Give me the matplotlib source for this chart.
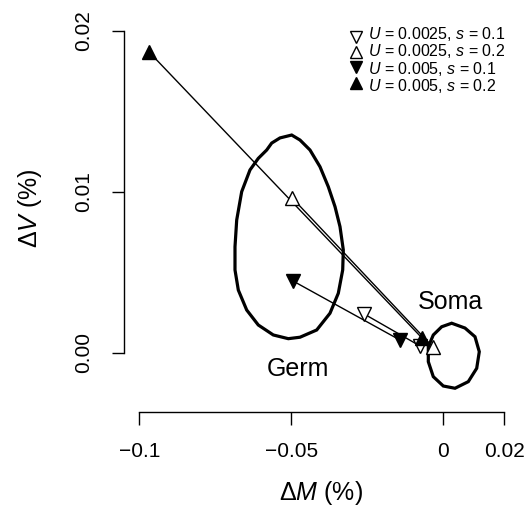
import matplotlib
matplotlib.use("Agg")
import matplotlib.pyplot as plt

plt.rcParams.update(
    {
        "font.family": ["Liberation Sans", "DejaVu Sans"],
        "mathtext.fontset": "custom",
        "mathtext.rm": "Liberation Sans",
        "mathtext.it": "Liberation Sans:italic",
        "mathtext.bf": "Liberation Sans:bold",
        "axes.linewidth": 1.0,
    }
)

# germ / soma end points for each (U, s) combination
series_labels = [
    "$U$ = 0.0025, $s$ = 0.1",
    "$U$ = 0.0025, $s$ = 0.2",
    "$U$ = 0.005, $s$ = 0.1",
    "$U$ = 0.005, $s$ = 0.2",
]
germ_dm = [-0.0260, -0.0497, -0.0494, -0.0968]
germ_dv = [0.00240, 0.00961, 0.00445, 0.01868]
soma_dm = [-0.0077, -0.0034, -0.0143, -0.0070]
soma_dv = [0.00042, 0.00035, 0.00079, 0.00091]

# outline of the germ-line region
germ_x = [-0.04987, -0.04714, -0.04385, -0.04056, -0.03783, -0.03562, -0.03398,
          -0.03289, -0.03309, -0.03454, -0.03727, -0.04164, -0.04714, -0.05099,
          -0.05592, -0.06086, -0.06467, -0.06743, -0.06852, -0.06852, -0.06796,
          -0.06632, -0.06359, -0.06086, -0.05809, -0.05645, -0.05372]
germ_y = [0.01352, 0.01321, 0.01259, 0.01155, 0.01031, 0.00907, 0.00783,
          0.00638, 0.00514, 0.00369, 0.00245, 0.00141, 0.00096, 0.00087,
          0.00110, 0.00172, 0.00265, 0.00389, 0.00514, 0.00658, 0.00824,
          0.01000, 0.01135, 0.01207, 0.01259, 0.01302, 0.01334]

# outline of the somatic region
soma_x = [0.00276, 0.00714, 0.01043, 0.01184, 0.01099, 0.00822, 0.00385,
          0.00000, -0.00329, -0.00493, -0.00493, -0.00329, -0.00053]
soma_y = [0.00183, 0.00153, 0.00099, 0.00006, -0.00097, -0.00180, -0.00221,
          -0.00207, -0.00149, -0.00056, 0.00037, 0.00110, 0.00161]

xticks = [-0.1, -0.05, 0, 0.02]
xtick_labels = ["\u22120.1", "\u22120.05", "0", "0.02"]
yticks = [0.0, 0.01, 0.02]
ytick_labels = ["0.00", "0.01", "0.02"]

markers = ["v", "^", "v", "^"]
filled = [False, False, True, True]

fig = plt.figure(figsize=(5.32, 5.08), dpi=100)
ax = fig.add_axes([0.2331, 0.1896, 0.7417, 0.7734])

ax.fill(germ_x, germ_y, facecolor="none", edgecolor="black", lw=2.3)
ax.fill(soma_x, soma_y, facecolor="none", edgecolor="black", lw=2.3)

for i in range(len(series_labels)):
    ax.plot([germ_dm[i], soma_dm[i]], [germ_dv[i], soma_dv[i]],
            color="black", lw=1.0, zorder=3)
for i in range(len(series_labels)):
    fc = "black" if filled[i] else "white"
    ax.plot([germ_dm[i], soma_dm[i]], [germ_dv[i], soma_dv[i]],
            ls="none", marker=markers[i], ms=9.5, mfc=fc, mec="black",
            mew=1.0, zorder=4)

ax.text(-0.0478, -0.00101, "Germ", fontsize=18, ha="center", va="center")
ax.text(0.0022, 0.00317, "Soma", fontsize=18, ha="center", va="center")

# legend, drawn by hand to match the tight row spacing
leg_rows = [0.9529, 0.9147, 0.8765, 0.8374]
for i in range(len(series_labels)):
    fc = "black" if filled[i] else "white"
    ax.plot([0.5880], [leg_rows[i]], transform=ax.transAxes, ls="none",
            marker=markers[i], ms=9, mfc=fc, mec="black", mew=1.0,
            clip_on=False)
ax.text(0.6183, sum(leg_rows) / 4, "\n".join(series_labels),
        transform=ax.transAxes, fontsize=11.5, ha="left", va="center",
        linespacing=0.95)

ax.set_xlim(-0.10503, 0.02477)
ax.set_ylim(-0.003665, 0.02074)

for side in ("top", "right"):
    ax.spines[side].set_visible(False)
ax.spines["bottom"].set_bounds(-0.1, 0.02)
ax.spines["left"].set_bounds(0.0, 0.02)

ax.set_xticks(xticks)
ax.set_xticklabels(xtick_labels)
ax.set_yticks(yticks)
ax.set_yticklabels(ytick_labels, rotation=90, va="center")
ax.tick_params(direction="out", length=9, width=1.0, pad=13, labelsize=15)

ax.set_xlabel("\u0394$M$ (%)", fontsize=18, va="center")
ax.xaxis.set_label_coords(0.5, -0.207)
ax.set_ylabel("\u0394$V$ (%)", fontsize=18, va="center")
ax.yaxis.set_label_coords(-0.238, 0.518)

fig.savefig("out.png", dpi=100)
